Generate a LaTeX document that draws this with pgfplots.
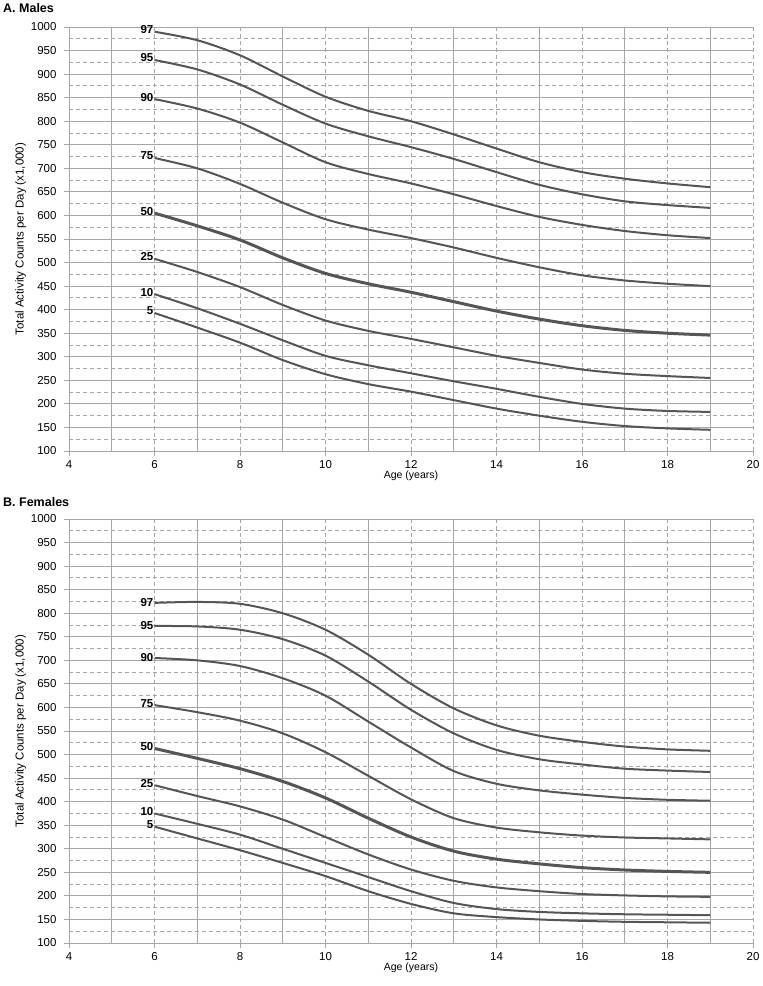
\documentclass[border=0pt]{standalone}
\usepackage{pgfplots}
\pgfplotsset{compat=1.18}
\usepackage{fontspec}
\setmainfont{Liberation Sans}
\definecolor{gridc}{HTML}{A6A6A6}
\definecolor{curve}{HTML}{555555}
\pgfplotsset{
  panel/.style={
    scale only axis, width=684bp, height=424bp,
    xmin=4, xmax=20, ymin=100, ymax=1000,
    xtick={4,6,...,20}, ytick={100,150,...,1000},
    minor xtick={5,7,...,19}, minor ytick={125,175,...,975},
    axis lines=left, axis line style={gridc, line width=0.9bp, -},
    grid=both,
    major x grid style={gridc, line width=0.9bp, dash pattern=on 4bp off 3bp},
    minor x grid style={gridc, line width=0.9bp},
    major y grid style={gridc, line width=0.9bp},
    minor y grid style={gridc, line width=0.9bp, dash pattern=on 4bp off 3bp},
    every y tick/.style={gridc, line width=0.9bp},
    every x tick/.style={gridc, line width=0.9bp},
    major tick length=5bp, minor tick length=0pt, tick align=outside,
    /pgf/number format/assume math mode=true,
    /pgf/number format/set thousands separator={},
    tick label style={font=\fontsize{11.5bp}{12bp}\selectfont, text=black},
    xticklabel style={yshift=-1bp},
    yticklabel style={xshift=-4bp},
    xlabel={Age (years)},
    xlabel style={font=\fontsize{10.5bp}{11bp}\selectfont, yshift=5bp},
    ylabel={Total Activity Counts per Day (x1,000)},
    ylabel style={font=\fontsize{11.5bp}{12bp}\selectfont, yshift=-2bp},
    clip=false,
  },
  crv/.style={curve, line width=2bp, smooth, no marks},
  crvm/.style={curve, line width=3bp, smooth, no marks},
}
\tikzset{lab/.style={anchor=east, font=\bfseries\fontsize{11.5bp}{12bp}\selectfont, inner sep=1bp}}
\begin{document}
\begin{tikzpicture}
\path[use as bounding box] (0,0) rectangle (763bp,-986bp);
\node[anchor=north west, inner sep=0pt, font=\bfseries\fontsize{12.5bp}{13bp}\selectfont] at (3bp,-3bp) {A. Males};
\begin{axis}[panel, at={(69bp,-451bp)}, anchor=south west]
\addplot[crv] coordinates {(6,990)(7,972)(8,940)(9,895)(10,852)(11,822)(12,800)(13,772)(14,742)(15,713)(16,692)(17,678)(18,668)(19,660)};
\addplot[crv] coordinates {(6,930)(7,910)(8,878)(9,835)(10,795)(11,768)(12,745)(13,720)(14,692)(15,665)(16,645)(17,630)(18,622)(19,616)};
\addplot[crv] coordinates {(6,847)(7,827)(8,797)(9,755)(10,713)(11,688)(12,668)(13,645)(14,620)(15,597)(16,580)(17,567)(18,558)(19,552)};
\addplot[crv] coordinates {(6,722)(7,700)(8,667)(9,627)(10,592)(11,570)(12,552)(13,532)(14,510)(15,490)(16,473)(17,462)(18,455)(19,450)};
\addplot[crvm] coordinates {(6,605)(7,578)(8,548)(9,510)(10,477)(11,455)(12,437)(13,417)(14,397)(15,380)(16,366)(17,356)(18,350)(19,346)};
\addplot[crv] coordinates {(6,508)(7,480)(8,448)(9,410)(10,377)(11,355)(12,338)(13,320)(14,302)(15,287)(16,273)(17,264)(18,259)(19,255)};
\addplot[crv] coordinates {(6,433)(7,403)(8,370)(9,335)(10,302)(11,282)(12,265)(13,248)(14,232)(15,215)(16,200)(17,190)(18,185)(19,183)};
\addplot[crv] coordinates {(6,393)(7,362)(8,330)(9,293)(10,263)(11,242)(12,226)(13,208)(14,190)(15,175)(16,162)(17,153)(18,148)(19,145)};
\node[lab] at (axis cs:6,995) {97};
\node[lab] at (axis cs:6,935) {95};
\node[lab] at (axis cs:6,851) {90};
\node[lab] at (axis cs:6,726) {75};
\node[lab] at (axis cs:6,609) {50};
\node[lab] at (axis cs:6,512) {25};
\node[lab] at (axis cs:6,437) {10};
\node[lab] at (axis cs:6,397) {5};
\end{axis}
\node[anchor=north west, inner sep=0pt, font=\bfseries\fontsize{12.5bp}{13bp}\selectfont] at (3bp,-497bp) {B. Females};
\begin{axis}[panel, at={(69bp,-943bp)}, anchor=south west]
\addplot[crv] coordinates {(6,822)(7,824)(8,820)(9,800)(10,765)(11,712)(12,650)(13,598)(14,562)(15,540)(16,527)(17,517)(18,511)(19,508)};
\addplot[crv] coordinates {(6,773)(7,772)(8,765)(9,745)(10,710)(11,655)(12,595)(13,545)(14,510)(15,490)(16,479)(17,470)(18,466)(19,463)};
\addplot[crv] coordinates {(6,705)(7,700)(8,688)(9,662)(10,625)(11,570)(12,515)(13,465)(14,438)(15,424)(16,415)(17,408)(18,404)(19,402)};
\addplot[crv] coordinates {(6,605)(7,590)(8,572)(9,545)(10,505)(11,455)(12,405)(13,365)(14,345)(15,335)(16,328)(17,324)(18,322)(19,320)};
\addplot[crvm] coordinates {(6,513)(7,492)(8,470)(9,443)(10,408)(11,365)(12,325)(13,295)(14,278)(15,268)(16,260)(17,255)(18,252)(19,250)};
\addplot[crv] coordinates {(6,435)(7,412)(8,390)(9,362)(10,325)(11,288)(12,256)(13,232)(14,218)(15,210)(16,204)(17,201)(18,199)(19,198)};
\addplot[crv] coordinates {(6,375)(7,353)(8,330)(9,300)(10,270)(11,240)(12,210)(13,185)(14,172)(15,166)(16,163)(17,161)(18,160)(19,159)};
\addplot[crv] coordinates {(6,347)(7,322)(8,297)(9,270)(10,242)(11,210)(12,183)(13,163)(14,155)(15,150)(16,147)(17,145)(18,144)(19,143)};
\node[lab] at (axis cs:6,822) {97};
\node[lab] at (axis cs:6,773) {95};
\node[lab] at (axis cs:6,707) {90};
\node[lab] at (axis cs:6,608) {75};
\node[lab] at (axis cs:6,516) {50};
\node[lab] at (axis cs:6,439) {25};
\node[lab] at (axis cs:6,379) {10};
\node[lab] at (axis cs:6,351) {5};
\end{axis}
\end{tikzpicture}
\end{document}
